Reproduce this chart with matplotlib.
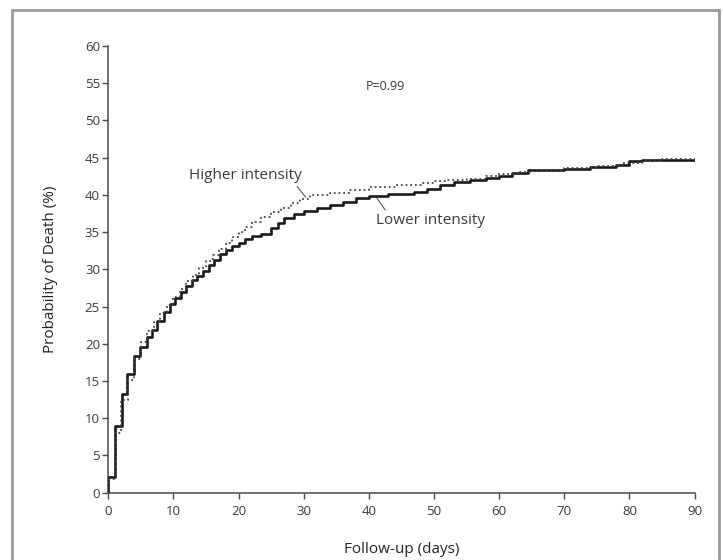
import matplotlib
matplotlib.use("Agg")
import matplotlib.pyplot as plt
from matplotlib.patches import Rectangle

# Kaplan-Meier style cumulative probability of death (%)
LOWER_DAYS = [0, 1.0, 2.1, 2.9, 3.9, 4.9, 5.9, 6.7, 7.5, 8.5, 9.5, 10.3, 11.1, 12.0,
              12.8, 13.6, 14.5, 15.4, 16.3, 17.2, 18.1, 19.0, 20.0, 21.0, 22.0, 23.5,
              25.0, 26.0, 27.0, 28.5, 30.0, 32.0, 34.0, 36.0, 38.0, 40.0, 43.0, 47.0,
              49.0, 51.0, 53.0, 55.5, 58.0, 60.0, 62.0, 64.5, 70.0, 74.0, 78.0, 80.0,
              82.0, 90.0]
LOWER_PROB = [2.1, 8.9, 13.3, 16.0, 18.3, 19.6, 20.9, 21.8, 23.0, 24.3, 25.3, 26.2, 27.0, 27.8,
              28.5, 29.1, 29.8, 30.6, 31.3, 32.0, 32.6, 33.1, 33.6, 34.1, 34.5, 34.8,
              35.5, 36.2, 36.9, 37.4, 37.8, 38.3, 38.7, 39.1, 39.6, 39.9, 40.1, 40.4,
              40.8, 41.3, 41.7, 42.0, 42.3, 42.6, 42.9, 43.3, 43.5, 43.7, 44.0, 44.5,
              44.7, 44.7]

HIGHER_DAYS = [0, 1.0, 2.0, 3.0, 4.0, 5.0, 6.0, 7.0, 8.0, 9.0, 10.0, 11.0, 12.0, 13.0,
               14.0, 15.0, 16.0, 17.0, 18.0, 19.0, 20.0, 21.0, 22.0, 23.5, 25.0, 26.5,
               28.0, 29.5, 31.0, 34.0, 37.0, 40.0, 44.0, 48.0, 50.0, 52.0, 55.0, 58.0,
               60.0, 63.0, 65.0, 70.0, 75.0, 79.0, 82.0, 85.0, 90.0]
HIGHER_PROB = [1.8, 8.0, 12.4, 15.1, 18.0, 20.2, 21.7, 22.9, 24.1, 25.2, 26.3, 27.4, 28.4, 29.3,
               30.2, 31.1, 31.9, 32.7, 33.5, 34.3, 35.0, 35.7, 36.4, 37.0, 37.7, 38.3,
               38.9, 39.5, 40.0, 40.3, 40.6, 41.0, 41.3, 41.6, 41.8, 42.0, 42.2, 42.5,
               42.8, 43.1, 43.4, 43.6, 43.9, 44.3, 44.6, 44.8, 44.8]

X_TICKS = list(range(0, 91, 10))
Y_TICKS = list(range(0, 61, 5))

plt.rcParams.update({
    "font.family": ["Open Sans", "DejaVu Sans"],
    "font.size": 10,
    "xtick.labelsize": 9.5,
    "ytick.labelsize": 9.5,
})

AX_COLOR = "#4a4a4a"
TEXT_COLOR = "#3a3a3a"

fig = plt.figure(figsize=(7.23, 5.60), dpi=100)
fig.patches.append(Rectangle((12 / 723, -0.05), 707 / 723, 1.05 - 10 / 560,
                             transform=fig.transFigure, fill=False,
                             edgecolor="#9a9a9a", linewidth=2.0, zorder=0))

ax = fig.add_axes([0.1498, 0.1202, 0.8108, 0.7977])

ax.step([0] + LOWER_DAYS, [0] + LOWER_PROB, where="post",
        color="#1a1a1a", linewidth=1.9, zorder=3)
ax.step([0] + HIGHER_DAYS, [0] + HIGHER_PROB, where="post",
        color="#444444", linewidth=1.3, linestyle=(0, (1, 1.6)), zorder=4)

ax.set_xlim(0, 90)
ax.set_ylim(0, 60)
ax.set_xticks(X_TICKS)
ax.set_yticks(Y_TICKS)
for spine in ["top", "right"]:
    ax.spines[spine].set_visible(False)
for spine in ["left", "bottom"]:
    ax.spines[spine].set_color(AX_COLOR)
    ax.spines[spine].set_linewidth(1.1)
ax.tick_params(axis="both", direction="out", length=4, width=1.0,
               color=AX_COLOR, labelcolor=TEXT_COLOR)
ax.tick_params(axis="y", pad=2)
ax.tick_params(axis="x", pad=5)

ax.set_xlabel("Follow-up (days)", fontsize=11, color="#222222", labelpad=17)
ax.set_ylabel("Probability of Death (%)", fontsize=11, color="#222222", labelpad=19.5)

ax.text(42.6, 54.5, "P=0.99", ha="center", va="center", fontsize=9, color=TEXT_COLOR)

ax.text(21.1, 42.6, "Higher intensity", ha="center", va="center",
        fontsize=11, color=TEXT_COLOR)
ax.plot([29.0, 30.3], [41.1, 39.7], color="#555555", linewidth=0.8)

ax.text(49.5, 36.6, "Lower intensity", ha="center", va="center",
        fontsize=11, color=TEXT_COLOR)
ax.plot([41.2, 42.5], [39.6, 38.0], color="#555555", linewidth=0.8)

fig.savefig("out.png", dpi=100)
